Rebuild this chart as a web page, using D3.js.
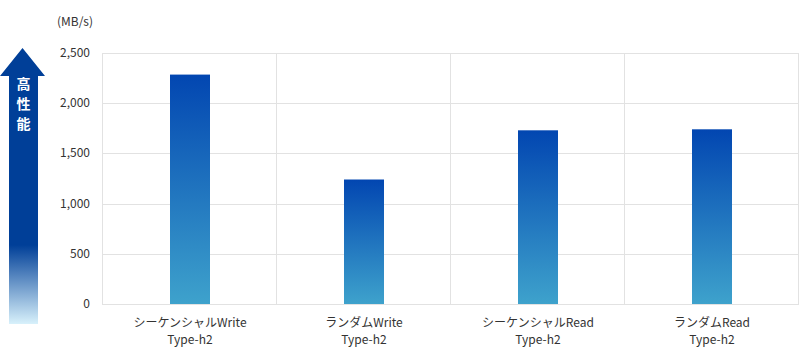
<!DOCTYPE html>
<html>
<head>
<meta charset="utf-8">
<script src="https://cdn.jsdelivr.net/npm/d3@7"></script>
<style>
    body { margin: 0; background: #fff; }
    text { font-family: "Noto Sans CJK JP", "Noto Sans", sans-serif; fill: #333; }
</style>
</head>
<body>
<div id="chart"></div>
<script>
// data
var categories = ["シーケンシャルWrite", "ランダムWrite", "シーケンシャルRead", "ランダムRead"];
var subLabels = ["Type-h2", "Type-h2", "Type-h2", "Type-h2"];
var speeds = [2285, 1240, 1730, 1740];
var yTicks = [0, 500, 1000, 1500, 2000, 2500];
var unitLabel = "(MB/s)";
var arrowLabel = ["高", "性", "能"];

var width = 800;
var height = 355;
var margin = { top: 53, right: 1, bottom: 51, left: 103 };

var svg = d3.select("#chart").append("svg")
    .attr("width", width)
    .attr("height", height);

var defs = svg.append("defs");

var barGrad = defs.append("linearGradient")
    .attr("id", "barGrad")
    .attr("x1", 0).attr("y1", 0).attr("x2", 0).attr("y2", 1);
barGrad.append("stop").attr("offset", "0%").attr("stop-color", "#0246b1");
barGrad.append("stop").attr("offset", "100%").attr("stop-color", "#3ea2cc");

var arrowGrad = defs.append("linearGradient")
    .attr("id", "arrowGrad")
    .attr("gradientUnits", "userSpaceOnUse")
    .attr("x1", 0).attr("y1", 245).attr("x2", 0).attr("y2", 324);
arrowGrad.append("stop").attr("offset", "0%").attr("stop-color", "#003f98");
arrowGrad.append("stop").attr("offset", "100%").attr("stop-color", "#d8f1fb");

var x = d3.scaleBand()
    .domain(categories)
    .range([margin.left, width - margin.right]);

var y = d3.scaleLinear()
    .domain([0, 2500])
    .range([height - margin.bottom, margin.top]);

// grid
svg.append("g")
    .selectAll("line")
    .data(yTicks)
    .join("line")
    .attr("x1", margin.left - 1)
    .attr("x2", width - margin.right)
    .attr("y1", d => Math.round(y(d)) + 0.5)
    .attr("y2", d => Math.round(y(d)) + 0.5)
    .attr("stroke", "#e2e2e2");

var vLines = categories.map(c => x(c)).concat([width - margin.right]);
svg.append("g")
    .selectAll("line")
    .data(vLines)
    .join("line")
    .attr("x1", d => Math.round(d) - 0.5)
    .attr("x2", d => Math.round(d) - 0.5)
    .attr("y1", y(2500))
    .attr("y2", y(0))
    .attr("stroke", "#e2e2e2");

// y labels
svg.append("g")
    .selectAll("text")
    .data(yTicks)
    .join("text")
    .attr("x", 90)
    .attr("y", d => y(d) + 4)
    .attr("text-anchor", "end")
    .attr("font-size", "12px")
    .text(d => d3.format(",")(d));

svg.append("text")
    .attr("x", 75)
    .attr("y", 26)
    .attr("text-anchor", "middle")
    .attr("font-size", "12px")
    .text(unitLabel);

// bars
var barW = 40;
svg.append("g")
    .selectAll("rect")
    .data(speeds)
    .join("rect")
    .attr("x", (d, i) => x(categories[i]) + x.bandwidth() / 2 - barW / 2)
    .attr("y", d => y(d))
    .attr("width", barW)
    .attr("height", d => y(0) - y(d))
    .attr("fill", "url(#barGrad)");

// category labels
var lab = svg.append("g")
    .selectAll("text")
    .data(categories)
    .join("text")
    .attr("x", d => x(d) + x.bandwidth() / 2)
    .attr("text-anchor", "middle")
    .attr("font-size", "12px");
lab.append("tspan").attr("x", d => x(d) + x.bandwidth() / 2).attr("y", 327).text(d => d);
lab.append("tspan").attr("x", d => x(d) + x.bandwidth() / 2).attr("y", 344)
    .text((d, i) => subLabels[i]);

// performance arrow
var arrowPath = d3.path();
arrowPath.moveTo(22.5, 48);
arrowPath.lineTo(45, 76);
arrowPath.lineTo(38, 76);
arrowPath.lineTo(38, 324);
arrowPath.lineTo(9, 324);
arrowPath.lineTo(9, 76);
arrowPath.lineTo(0, 76);
arrowPath.closePath();
svg.append("path")
    .attr("d", arrowPath.toString())
    .attr("fill", "url(#arrowGrad)");

svg.append("g")
    .selectAll("text")
    .data(arrowLabel)
    .join("text")
    .attr("x", 23.5)
    .attr("y", (d, i) => 89 + i * 20)
    .attr("text-anchor", "middle")
    .attr("font-size", "14px")
    .attr("font-weight", "bold")
    .style("fill", "#fff")
    .text(d => d);
</script>
</body>
</html>
